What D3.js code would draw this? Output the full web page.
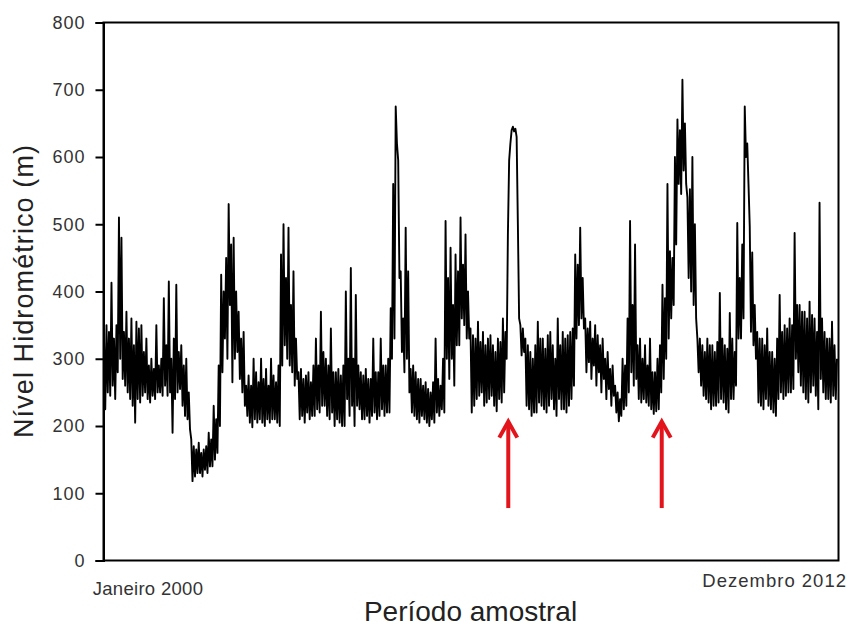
<!DOCTYPE html>
<html><head><meta charset="utf-8">
<script src="https://cdn.jsdelivr.net/npm/d3@7"></script>
<style>body{margin:0;background:#fff}svg{display:block}</style>
</head><body><svg id="c" width="848" height="626"></svg>
<script>
// Nível hidrométrico (m), Janeiro 2000 – Dezembro 2012
const nivel = [
  330,225,350,250,340,245,413,260,330,240,350,280,510,300,480,270,
  340,260,370,250,330,240,360,230,320,205,355,240,345,235,350,245,310,250,
  330,240,290,235,300,245,285,240,350,250,290,250,300,245,
  390,260,320,245,415,250,300,190,330,240,410,250,
  310,255,320,230,290,215,300,210,250,195,
  180,118,170,125,165,130,175,130,160,125,165,135,170,130,190,140,180,140,
  230,150,210,160,290,200,425,280,400,330,450,300,530,380,470,265,480,300,400,310,
  370,270,330,250,340,230,
  260,215,275,205,260,198,300,210,280,205,265,210,300,205,270,200,285,210,260,205,300,210,275,210,265,205,290,200,
  455,290,500,320,420,300,495,290,380,280,430,260,330,270,
  280,210,285,215,270,205,275,220,280,210,265,215,290,215,
  330,225,290,220,370,230,310,230,300,215,290,210,345,220,280,200,
  280,210,285,205,275,200,290,200,400,240,300,215,435,230,300,200,395,230,290,225,
  280,210,275,210,285,215,270,205,270,215,330,220,280,210,280,215,330,225,290,215,290,220,300,220,
  375,300,560,330,675,620,595,420,430,310,360,280,495,300,430,250,
  285,220,290,215,280,210,270,205,270,215,260,210,265,205,255,200,250,210,
  265,205,330,220,270,215,260,225,300,220,
  505,300,420,270,465,300,380,260,
  455,320,430,320,510,360,440,350,485,330,400,330,
  345,220,335,230,330,240,355,245,325,250,340,230,320,235,330,240,335,245,320,230,310,222,330,240,325,235,360,250,340,300,
  485,595,620,640,645,638,642,630,500,360,
  350,305,345,310,330,230,320,225,
  310,215,300,220,320,220,355,235,330,230,330,225,315,220,335,230,340,240,320,225,300,215,360,240,320,225,
  340,225,330,220,335,230,340,240,345,260,
  455,330,440,350,495,360,420,345,
  360,280,345,295,355,270,330,290,350,260,335,280,320,250,330,270,300,240,310,255,285,230,290,245,260,220,250,207,240,215,
  300,225,290,230,360,250,505,280,380,260,470,270,320,240,330,235,
  300,240,320,235,290,230,330,225,280,218,280,222,300,225,
  320,250,410,270,390,300,560,330,460,360,450,380,
  600,470,656,560,640,545,715,580,650,560,540,420,
  552,400,600,380,500,360,330,280,330,260,320,245,310,240,
  330,235,320,225,320,230,310,230,325,235,398,240,330,235,320,225,315,220,368,240,330,240,310,260,
  502,330,420,330,470,360,675,600,620,560,497,340,458,320,380,300,
  340,235,330,230,330,225,320,240,345,230,310,225,310,220,300,215,330,240,395,250,340,240,350,245,345,250,360,250,350,255,487,300,380,280,
  380,260,370,250,370,240,360,235,385,250,365,260,360,245,340,225,532,270,360,250,340,240,330,240,330,235,355,245,320,240,300
];
const yTicks = [0,100,200,300,400,500,600,700,800];
const xLabels = ["Janeiro 2000","Dezembro 2012"];
const arrowIdx = [324.3, 447.4];     // posição das setas (índice da série)
const arrowTip = 208, arrowTail = 78; // extremos das setas (m)
const yTitle = "Nível Hidrométrico (m)";
const xTitle = "Período amostral";

const svg = d3.select("#c");
const L = 103.5, R = 838.5, T = 22.5, B = 560.5;
const x = d3.scaleLinear().domain([0, nivel.length - 1]).range([104, 837]);
const y = d3.scaleLinear().domain([0, 800]).range([B, T]);
const font = "Arial, 'Liberation Sans', Helvetica, sans-serif";

// série
svg.append("path").datum(nivel)
  .attr("d", d3.line().x((d, i) => x(i)).y(d => y(d)))
  .attr("fill", "none").attr("stroke", "#000")
  .attr("stroke-width", 1.9).attr("stroke-linejoin", "round");

// moldura
svg.append("rect").attr("x", L).attr("y", T).attr("width", R - L).attr("height", B - T)
  .attr("fill", "none").attr("stroke", "#000").attr("stroke-width", 2);

// eixo y
const ya = svg.append("g").attr("transform", `translate(${L},0)`)
  .call(d3.axisLeft(y).tickValues(yTicks).tickSize(8).tickPadding(10).tickFormat(d3.format("d")));
ya.select(".domain").attr("stroke-width", 2);
ya.selectAll(".tick line").attr("stroke-width", 2);
ya.selectAll(".tick text").attr("font-family", font).attr("font-size", 18)
  .attr("fill", "#333").attr("letter-spacing", 1);

// rótulos do eixo x
svg.append("text").attr("x", 92.7).attr("y", 595).attr("font-family", font)
  .attr("font-size", 18.5).attr("letter-spacing", 0.3).attr("fill", "#333")
  .attr("text-anchor", "start").text(xLabels[0]);
svg.append("text").attr("x", 847).attr("y", 587).attr("font-family", font)
  .attr("font-size", 18.5).attr("letter-spacing", 1).attr("fill", "#333")
  .attr("text-anchor", "end").text(xLabels[1]);

// títulos
svg.append("text").attr("transform", "translate(32.5,291.5) rotate(-90)")
  .attr("text-anchor", "middle").attr("font-family", font).attr("font-size", 27)
  .attr("textLength", 293).attr("lengthAdjust", "spacing")
  .attr("fill", "#222").text(yTitle);
svg.append("text").attr("x", 470.5).attr("y", 621).attr("text-anchor", "middle")
  .attr("font-family", font).attr("font-size", 28).attr("fill", "#222").text(xTitle);

// setas
arrowIdx.forEach(a => {
  const ax = x(a), ty = y(arrowTip), by = y(arrowTail);
  const g = svg.append("g").attr("stroke", "#e3151c").attr("stroke-width", 4)
    .attr("fill", "none");
  g.append("line").attr("x1", ax).attr("x2", ax).attr("y1", by).attr("y2", ty + 2);
  g.append("polyline").attr("points", `${ax - 9},${ty + 17} ${ax},${ty + 1} ${ax + 9},${ty + 17}`)
    .attr("stroke-linejoin", "miter");
});
</script></body></html>
